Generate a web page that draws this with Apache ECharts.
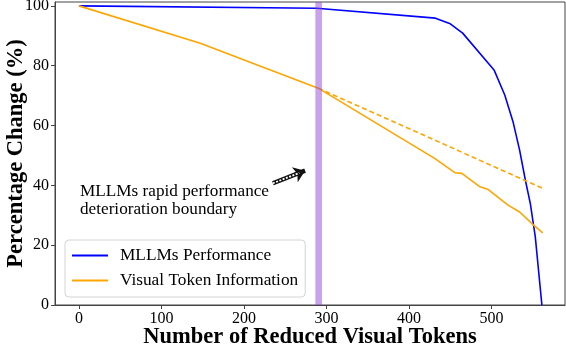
<!DOCTYPE html>
<html>
<head>
<meta charset="utf-8">
<script src="https://cdn.jsdelivr.net/npm/echarts@6/dist/echarts.min.js"></script>
<style>html,body{margin:0;padding:0;background:#fff;}#c{width:566px;height:346px;}</style>
</head>
<body>
<div id="c"></div>
<script>
// ---- data ----
const mllmX = [0, 288, 432, 450, 465, 503, 516, 526, 534, 541, 547, 553, 561];
const mllmY = [100, 99.2, 95.9, 94.0, 90.9, 78.6, 70.2, 61.3, 51.8, 41.7, 33.9, 22.8, 0];
const vtiX = [0, 147, 290, 431, 456, 464, 486, 496, 520, 534, 551, 562];
const vtiY = [100, 87.5, 72.5, 49.0, 44.2, 44.0, 39.5, 38.6, 33.4, 31.1, 26.7, 24.1];
const trendX = [290, 562];
const trendY = [72.5, 39.0];
const boundaryRange = [286.5, 294.5];
const arrowFrom = [235, 40.7];
const arrowTo = [274, 44.9];
const xTicks = [0, 100, 200, 300, 400, 500];
const yTicks = [0, 20, 40, 60, 80, 100];
const seriesNames = ['MLLMs Performance', 'Visual Token Information'];
const annotationText = 'MLLMs rapid performance\ndeterioration boundary';

const zip = (a, b) => a.map((v, i) => [v, b[i]]);
const FONT = 'Liberation Serif';

const chart = echarts.init(document.getElementById('c'), null, {renderer: 'canvas'});
chart.setOption({
  animation: false,
  backgroundColor: '#fff',
  grid: {left: 55, right: 1, top: 2, bottom: 41, show: true, borderColor: '#444', borderWidth: 1,
    backgroundColor: 'transparent', containLabel: false, outerBoundsMode: 'none'},
  xAxis: {
    type: 'value', min: -29, max: 589,
    name: 'Number of Reduced Visual Tokens', nameLocation: 'middle', nameGap: 21, nameMoveOverlap: false,
    nameTextStyle: {fontFamily: FONT, fontSize: 22.5, fontWeight: 'bold', color: '#000'},
    axisLine: {show: true, onZero: false, lineStyle: {color: '#444', width: 1}},
    axisTick: {show: true, length: 4, customValues: xTicks, lineStyle: {color: '#444'}},
    axisLabel: {customValues: xTicks, margin: 6, fontFamily: FONT, fontSize: 16, color: '#000'},
    splitLine: {show: false}
  },
  yAxis: {
    type: 'value', min: 0, max: 101.3,
    name: 'Percentage Change (%)', nameLocation: 'middle', nameGap: 27, nameMoveOverlap: false,
    nameTextStyle: {fontFamily: FONT, fontSize: 22.5, fontWeight: 'bold', color: '#000'},
    axisLine: {show: true, onZero: false, lineStyle: {color: '#444', width: 1}},
    axisTick: {show: true, length: 4, customValues: yTicks, lineStyle: {color: '#444'}},
    axisLabel: {customValues: yTicks, margin: 6, fontFamily: FONT, fontSize: 16, color: '#000'},
    splitLine: {show: false}
  },
  legend: {
    data: seriesNames,
    orient: 'vertical', left: 65, top: 240, icon: 'rect',
    padding: [7, 7, 8, 7], itemGap: 8, itemWidth: 36, itemHeight: 2,
    backgroundColor: 'rgba(255,255,255,0.8)', borderColor: '#d4d4d4', borderWidth: 1, borderRadius: 4,
    textStyle: {fontFamily: FONT, fontSize: 17.3, color: '#000', padding: [0, 0, 0, 7]}
  },
  series: [
    {
      name: seriesNames[0], type: 'line', data: zip(mllmX, mllmY), symbol: 'none', z: 3,
      lineStyle: {color: '#0000ff', width: 1.6}, itemStyle: {color: '#0000ff'},
      markArea: {silent: true, z: 4, itemStyle: {color: 'rgba(145,70,215,0.5)'},
        data: [[{xAxis: boundaryRange[0]}, {xAxis: boundaryRange[1]}]]}
    },
    {
      name: seriesNames[1], type: 'line', data: zip(vtiX, vtiY), symbol: 'none', z: 3,
      lineStyle: {color: '#ffa500', width: 1.6}, itemStyle: {color: '#ffa500'}
    },
    {
      name: 'trend', type: 'line', data: zip(trendX, trendY), symbol: 'none', z: 3,
      lineStyle: {color: '#ffa500', width: 1.6, type: [5, 3]}, itemStyle: {color: '#ffa500'}
    },
    {
      name: 'arrow', type: 'line', data: [], z: 5,
      markLine: {silent: true, symbol: ['none', 'arrow'], symbolSize: [12, 11],
        lineStyle: {color: '#111', width: 4.5, type: 'solid'}, label: {show: false},
        data: [[{coord: arrowFrom}, {coord: arrowTo}]]}
    },
    {
      name: 'arrow2', type: 'line', data: [], z: 6,
      markLine: {silent: true, symbol: ['none', 'none'],
        lineStyle: {color: '#fff', width: 1.8, type: [2, 1.5]}, label: {show: false},
        data: [[{coord: arrowFrom}, {coord: [arrowTo[0] - 7, arrowTo[1] - 0.75]}]]}
    }
  ],
  graphic: [{
    type: 'text', left: 80, top: 182, z: 10,
    style: {text: annotationText, fontFamily: FONT, fontSize: 17.2, lineHeight: 18, fill: '#000'}
  }]
});
</script>
</body>
</html>
